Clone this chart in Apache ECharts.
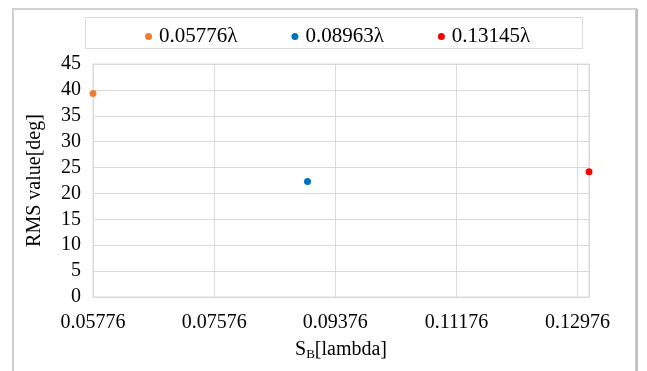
<!DOCTYPE html>
<html>
<head>
<meta charset="utf-8">
<script src="https://cdn.jsdelivr.net/npm/echarts@6/dist/echarts.min.js"></script>
<style>html,body{margin:0;padding:0;background:#fff;}#c{width:647px;height:371px;}</style>
</head>
<body>
<div id="c"></div>
<script>
const seriesNames = ['0.05776λ', '0.08963λ', '0.13145λ'];
const seriesX = [0.05776, 0.08963, 0.13145];
const seriesY = [39.3, 22.3, 24.2];
const seriesColors = ['#ED7D31', '#0070C0', '#FF0000'];
const xTicks = [0.05776, 0.07576, 0.09376, 0.11176, 0.12976];
const yTicks = [0, 5, 10, 15, 20, 25, 30, 35, 40, 45];

const FONT = '"Liberation Serif", "Times New Roman", serif';
const FS = 20;
const chart = echarts.init(document.getElementById('c'));
chart.setOption({
  animation: false,
  backgroundColor: '#fff',
  graphic: [
    { type: 'rect', shape: { x: 13, y: 9, width: 623, height: 380 }, style: { fill: 'none', stroke: '#d0d0d0', lineWidth: 2 }, silent: true },
    { type: 'line', shape: { x1: 637, y1: 9, x2: 637, y2: 371 }, style: { stroke: '#bdbdbd', lineWidth: 2 }, silent: true },
    { type: 'rect', shape: { x: 85.5, y: 17.5, width: 497, height: 31 }, style: { fill: 'none', stroke: '#d9d9d9', lineWidth: 1 }, silent: true }
  ],
  legend: {
    data: seriesNames,
    left: 140,
    top: 21,
    icon: 'circle',
    itemWidth: 7,
    itemHeight: 7,
    itemGap: 54,
    textStyle: { fontFamily: FONT, fontSize: 21, color: '#000', padding: [0, 0, 0, 2] }
  },
  grid: {
    left: 93, top: 64, width: 496, height: 233,
    show: true, borderColor: '#d9d9d9', borderWidth: 1,
    containLabel: false
  },
  xAxis: {
    type: 'value',
    min: xTicks[0],
    max: seriesX[2],
    interval: xTicks[1] - xTicks[0],
    name: 'S{sub|B}[lambda]',
    nameLocation: 'middle',
    nameGap: 41,
    nameTextStyle: {
      fontFamily: FONT, fontSize: FS, color: '#000',
      rich: { sub: { fontFamily: FONT, fontSize: 13, color: '#000', verticalAlign: 'bottom', padding: [10, 0, 0, 0] } }
    },
    axisLine: { show: false },
    axisTick: { show: false },
    splitLine: { show: true, lineStyle: { color: '#d9d9d9', width: 1 } },
    axisLabel: {
      fontFamily: FONT, fontSize: FS, color: '#000', margin: 16,
      showMaxLabel: false,
      formatter: function (v) {
        const r = Math.round(v * 100000) / 100000;
        return xTicks.some(t => Math.abs(t - r) < 1e-7) ? r.toFixed(5) : '';
      }
    }
  },
  yAxis: {
    type: 'value',
    min: 0, max: 45, interval: 5,
    name: 'RMS value[deg]',
    nameLocation: 'middle',
    nameGap: 48,
    nameTextStyle: { fontFamily: FONT, fontSize: FS, color: '#000' },
    axisLine: { show: false },
    axisTick: { show: false },
    splitLine: { show: true, lineStyle: { color: '#d9d9d9', width: 1 } },
    axisLabel: { fontFamily: FONT, fontSize: FS, color: '#000', margin: 12 }
  },
  series: seriesNames.map((n, i) => ({
    name: n,
    type: 'scatter',
    symbol: 'circle',
    symbolSize: 7,
    itemStyle: { color: seriesColors[i], opacity: 1 },
    data: [[seriesX[i], seriesY[i]]],
    clip: false
  }))
});
</script>
</body>
</html>
